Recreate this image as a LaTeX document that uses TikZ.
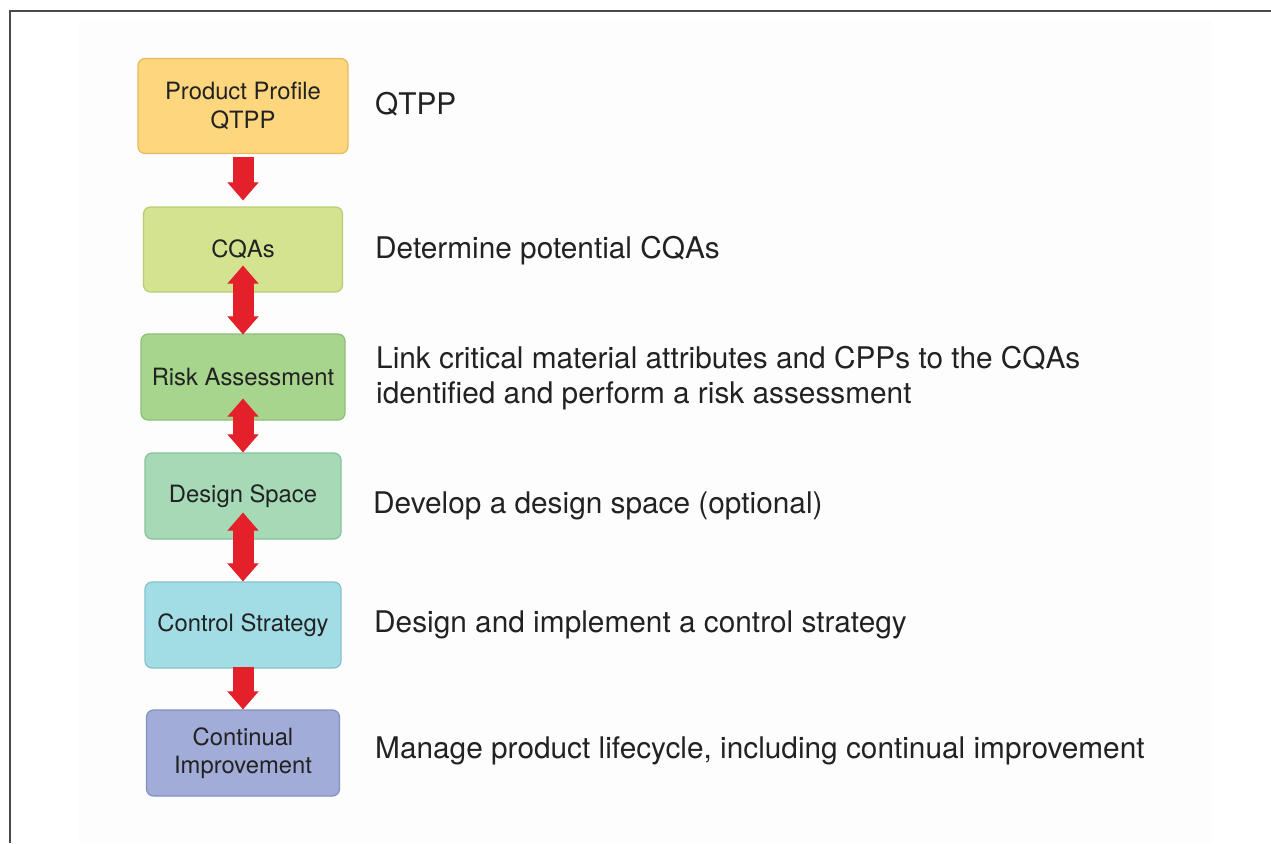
\documentclass[tikz,border=0pt]{standalone}
\usepackage{fontspec}
\setmainfont{TeX Gyre Heros}
\usetikzlibrary{arrows.meta,calc}
\definecolor{ink}{HTML}{222222}
\definecolor{frame}{HTML}{4A4A4A}
\definecolor{paper}{HTML}{FDFDFD}
\definecolor{arrowred}{HTML}{E4202A}
\definecolor{qtppfill}{HTML}{FDD67E}\definecolor{qtppline}{HTML}{E6B962}
\definecolor{cqafill}{HTML}{D3E38F}\definecolor{cqaline}{HTML}{B8CC78}
\definecolor{riskfill}{HTML}{A8D58E}\definecolor{riskline}{HTML}{8DBE77}
\definecolor{dsfill}{HTML}{A6D9B6}\definecolor{dsline}{HTML}{88C09B}
\definecolor{ctrlfill}{HTML}{A2DCE4}\definecolor{ctrlline}{HTML}{86C2CC}
\definecolor{cifill}{HTML}{A2ACD8}\definecolor{ciline}{HTML}{8490C0}
\tikzset{
  fathead/.tip={Triangle[width=31pt,length=18pt,line width=1pt]},
  stepbox/.style={draw, line width=1.2pt, rounded corners=7pt, align=center,
    inner sep=0pt, text=ink, font=\fontsize{23.8}{28.5}\selectfont},
  note/.style={anchor=base west, inner sep=0pt, align=left, text=ink,
    font=\fontsize{29.8}{35}\selectfont},
  oneway/.style={draw=arrowred, line width=21pt, -fathead},
  twoway/.style={draw=arrowred, line width=21pt, fathead-fathead}
}
\begin{document}
\begin{tikzpicture}[x=1pt,y=-1pt]
  \useasboundingbox (0,0) rectangle (1271,843);
  % page area and cropped frame
  \fill[paper] (78,20) rectangle (1212,843);
  \draw[frame, line width=2pt] (10,843) -- (10,11) -- (1271,11);

  % process steps
  \node[stepbox, fill=qtppfill, draw=qtppline, minimum width=210pt, minimum height=95pt]
    (qtpp) at (243,106) {Product Profile\\QTPP};
  \node[stepbox, fill=cqafill, draw=cqaline, minimum width=199pt, minimum height=85pt]
    (cqa) at (243,249.5) {CQAs};
  \node[stepbox, fill=riskfill, draw=riskline, minimum width=204pt, minimum height=86pt]
    (risk) at (243,377) {Risk Assessment};
  \node[stepbox, fill=dsfill, draw=dsline, minimum width=196pt, minimum height=86pt]
    (ds) at (243,496) {Design Space};
  \node[stepbox, fill=ctrlfill, draw=ctrlline, minimum width=196pt, minimum height=86pt]
    (ctrl) at (243,625) {Control Strategy};
  \node[stepbox, fill=cifill, draw=ciline, minimum width=193pt, minimum height=86pt]
    (ci) at (243,753) {Continual\\Improvement};

  % connectors
  \draw[oneway] ($(qtpp.south)+(0,3)$) -- ($(cqa.north)+(0,-6)$);
  \draw[twoway] ($(cqa.south)+(0,-27)$) -- ($(risk.north)+(0,1)$);
  \draw[twoway] ($(risk.south)+(0,-22)$) -- ($(ds.north)+(0,0)$);
  \draw[twoway] ($(ds.south)+(0,-27)$) -- ($(ctrl.north)+(0,0)$);
  \draw[oneway] ($(ctrl.south)+(0,-2)$) -- ($(ci.north)+(0,0)$);

  % descriptions
  \node[note] (t1) at (375,114) {QTPP};
  \node[note] (t2) at (375,258) {Determine potential CQAs};
  \node[note] (t3) at (376,403) {Link critical material attributes and CPPs to the CQAs\\identified and perform a risk assessment};
  \node[note] (t4) at (373,513) {Develop a design space (optional)};
  \node[note] (t5) at (374,632) {Design and implement a control strategy};
  \node[note] (t6) at (375,758) {Manage product lifecycle, including continual improvement};
\end{tikzpicture}
\end{document}
